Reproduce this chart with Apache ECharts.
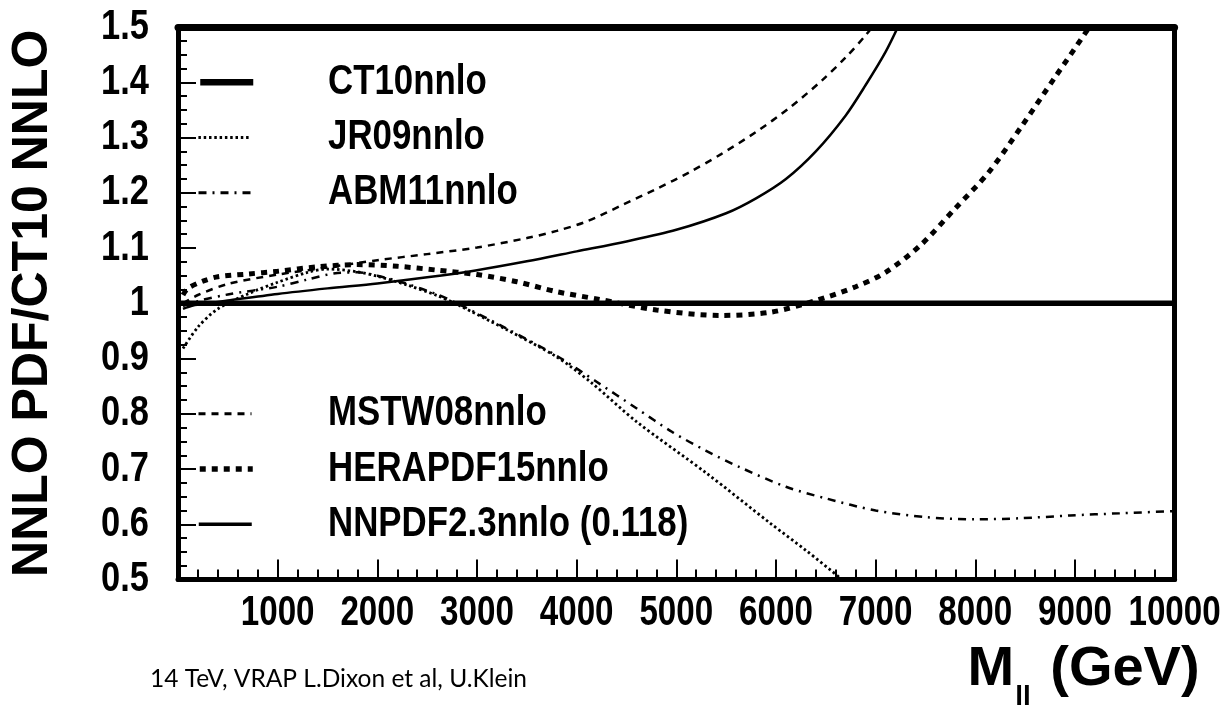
<!DOCTYPE html>
<html>
<head>
<meta charset="utf-8">
<script src="https://cdn.jsdelivr.net/npm/echarts@6/dist/echarts.min.js"></script>
<style>
  html, body { margin: 0; padding: 0; background: #fff; }
  #chart { width: 1231px; height: 714px; }
</style>
</head>
<body>
<div id="chart"></div>
<script>
// Ratio of each NNLO PDF set to CT10 NNLO versus dilepton mass M_ll (GeV)
const xTickValues = [1000, 2000, 3000, 4000, 5000, 6000, 7000, 8000, 9000, 10000];
const yTickValues = [0.5, 0.6, 0.7, 0.8, 0.9, 1.0, 1.1, 1.2, 1.3, 1.4, 1.5];

const upperLegend = ['CT10nnlo', 'JR09nnlo', 'ABM11nnlo'];
const lowerLegend = ['MSTW08nnlo', 'HERAPDF15nnlo', 'NNPDF2.3nnlo (0.118)'];

const ct10 = [[0, 1], [10000, 1]];

const jr09 = [[50, 0.918], [200, 0.957], [400, 0.99], [700, 1.017], [1000, 1.038], [1300, 1.056],
  [1500, 1.062], [1800, 1.057], [2000, 1.049], [2300, 1.033], [2600, 1.014], [2800, 0.998],
  [3300, 0.952], [3800, 0.903], [4150, 0.856], [4600, 0.786], [5300, 0.693], [5950, 0.601],
  [6300, 0.553], [6650, 0.502], [6800, 0.478]];

const abm11 = [[50, 0.995], [200, 1.004], [500, 1.016], [1000, 1.03], [1300, 1.043], [1600, 1.055],
  [1800, 1.056], [2000, 1.05], [2300, 1.035], [2600, 1.016], [2800, 1.0], [3300, 0.954],
  [3800, 0.905], [4200, 0.858], [4600, 0.81], [4960, 0.767], [5300, 0.733], [5630, 0.704],
  [6100, 0.668], [6500, 0.647], [7000, 0.625], [7500, 0.613], [8000, 0.609], [8450, 0.611],
  [8950, 0.616], [9450, 0.62], [10000, 0.624]];

const mstw08 = [[50, 1.0], [200, 1.015], [500, 1.035], [1000, 1.052], [1500, 1.065], [2000, 1.078],
  [2500, 1.089], [3000, 1.101], [3500, 1.118], [3800, 1.131], [4100, 1.148], [4460, 1.178],
  [4800, 1.207], [5130, 1.237], [5450, 1.27], [5800, 1.31], [6130, 1.353], [6460, 1.403],
  [6700, 1.445], [6900, 1.485], [7000, 1.508]];

const herapdf15 = [[50, 1.015], [100, 1.027], [250, 1.04], [400, 1.048], [700, 1.053], [1000, 1.058],
  [1400, 1.066], [1800, 1.07], [2200, 1.067], [2600, 1.06], [3000, 1.052], [3400, 1.039],
  [3800, 1.021], [4200, 1.008], [4800, 0.988], [5450, 0.978], [5950, 0.984], [6400, 1.005],
  [6800, 1.03], [7100, 1.056], [7450, 1.105], [7800, 1.172], [8130, 1.236], [8460, 1.319],
  [8800, 1.409], [9100, 1.488], [9200, 1.515]];

const nnpdf23 = [[50, 0.99], [150, 0.996], [300, 1.0], [500, 1.005], [1000, 1.017], [1500, 1.027],
  [2000, 1.036], [2500, 1.047], [3000, 1.06], [3500, 1.076], [4000, 1.094], [4500, 1.112],
  [5000, 1.133], [5500, 1.163], [5800, 1.19], [6100, 1.225], [6400, 1.275], [6700, 1.34],
  [6900, 1.395], [7100, 1.455], [7250, 1.51]];

const SANS = '"Liberation Sans", Arial, Helvetica, sans-serif';

const chart = echarts.init(document.getElementById('chart'), null, { renderer: 'canvas' });

function curve(name, data, width, dash, z) {
  return {
    name, type: 'line', data, smooth: 0.3,
    symbol: 'none', clip: true, z: z || 2, silent: true,
    itemStyle: { color: '#000' },
    lineStyle: { color: '#000', width, type: dash || 'solid' }
  };
}

const legendLineWidths = {
  'CT10nnlo': 6.5, 'JR09nnlo': 2.8, 'ABM11nnlo': 3,
  'MSTW08nnlo': 3, 'HERAPDF15nnlo': 5.5, 'NNPDF2.3nnlo (0.118)': 3.5
};

// one legend row per set: the sample line only, the name is set as condensed text
function legendRow(name) {
  return {
    orient: 'horizontal', left: 197, top: 0, padding: 0,
    itemWidth: 53, itemHeight: 14, itemGap: 0, selectedMode: false,
    itemStyle: { opacity: 0 },
    textStyle: { fontSize: 10, color: '#000' },
    formatter: () => '',
    data: [{ name, lineStyle: { width: legendLineWidths[name] } }]
  };
}

const legendNames = upperLegend.concat(lowerLegend);

const option = {
  animation: false,
  backgroundColor: '#fff',
  grid: { left: 170.6, top: 27, right: 56.4, bottom: 134.4, containLabel: false },
  xAxis: [{
    type: 'value', min: 0, max: 10000, interval: 1000, position: 'bottom',
    axisLine: { show: true, onZero: false, lineStyle: { color: '#000', width: 5 } },
    axisTick: { show: true, inside: true, length: 20, lineStyle: { color: '#000', width: 2 } },
    minorTick: { show: true, splitNumber: 5, length: 10, lineStyle: { color: '#000', width: 2 } },
    splitLine: { show: false }, minorSplitLine: { show: false },
    axisLabel: { show: false },
    name: '{m|M}{s|ll}{m| (GeV)}', nameLocation: 'end', nameGap: 25,
    nameTextStyle: {
      align: 'right', verticalAlign: 'top', padding: [62, 0, 0, 0],
      rich: {
        m: { fontFamily: SANS, fontWeight: 'bold', fontSize: 56, lineHeight: 60, verticalAlign: 'top', color: '#000' },
        s: { fontFamily: SANS, fontWeight: 'bold', fontSize: 28, lineHeight: 70, verticalAlign: 'bottom', color: '#000', padding: [0, 4, 0, 1] }
      }
    }
  }, {
    type: 'value', min: 0, max: 10000, position: 'top',
    axisLine: { show: true, onZero: false, lineStyle: { color: '#000', width: 7 } },
    axisTick: { show: false }, axisLabel: { show: false }, splitLine: { show: false }
  }],
  yAxis: [{
    type: 'value', min: 0.5, max: 1.5, interval: 0.1, position: 'left',
    axisLine: { show: true, onZero: false, lineStyle: { color: '#000', width: 5 } },
    axisTick: { show: true, inside: true, length: 18, lineStyle: { color: '#000', width: 2 } },
    minorTick: { show: true, splitNumber: 4, length: 9, lineStyle: { color: '#000', width: 2 } },
    splitLine: { show: false }, minorSplitLine: { show: false },
    axisLabel: { show: false },
    name: 'NNLO PDF/CT10 NNLO', nameLocation: 'middle', nameGap: 120, nameRotate: 90,
    nameTextStyle: { fontFamily: SANS, fontWeight: 'bold', fontSize: 50, color: '#000' }
  }, {
    type: 'value', min: 0.5, max: 1.5, position: 'right',
    axisLine: { show: true, onZero: false, lineStyle: { color: '#000', width: 5 } },
    axisTick: { show: false }, axisLabel: { show: false }, splitLine: { show: false }
  }],
  legend: legendNames.map(legendRow),
  series: [
    curve('JR09nnlo', jr09, 2.8, [2.5, 2.8]),
    curve('ABM11nnlo', abm11, 2.5, [8, 6, 2, 6]),
    curve('MSTW08nnlo', mstw08, 2.5, [7, 6]),
    curve('HERAPDF15nnlo', herapdf15, 5, [6, 6]),
    curve('NNPDF2.3nnlo (0.118)', nnpdf23, 2.5, 'solid'),
    curve('CT10nnlo', ct10, 5.5, 'solid', 5)
  ]
};

chart.setOption(option);

// Condensed bold labels placed through the chart's own axis scales
function condensed(text, x, y, align, size, scale) {
  return {
    type: 'text', x, y, scaleX: scale, silent: true, z: 20,
    style: {
      text, x: 0, y: 0, align, verticalAlign: 'middle',
      font: `bold ${size}px ${SANS}`, fill: '#000'
    }
  };
}

const px = v => chart.convertToPixel({ xAxisIndex: 0 }, v);
const py = v => chart.convertToPixel({ yAxisIndex: 0 }, v);
const axisY = py(0.5);
const axisX = px(0);
const rowStep = py(1.3) - py(1.4);

const graphics = [];
xTickValues.forEach(v => {
  graphics.push(condensed(String(v), px(v), axisY + 33.5, 'center', 42, 0.79));
});
yTickValues.forEach(v => {
  const t = v === 1 ? '1' : v.toFixed(1);
  graphics.push(condensed(t, axisX - 29, py(v), 'right', 42, 0.82));
});

// legend rows sit on the 1.4 / 1.3 / 1.2 and 0.8 / 0.7 / 0.6 levels
const rowY = [py(1.4), py(1.4) + rowStep, py(1.4) + 2 * rowStep,
              py(0.8), py(0.8) + rowStep, py(0.8) + 2 * rowStep];
legendNames.forEach((n, i) => graphics.push(condensed(n, 328, rowY[i], 'left', 42, 0.83)));

graphics.push({
  type: 'text', left: 150, top: 667, silent: true,
  style: { text: '14 TeV, VRAP L.Dixon et al, U.Klein', font: '24.5px Lato, "Open Sans", sans-serif', fill: '#000' }
});

chart.setOption({
  legend: rowY.map(y => ({ top: y - 7 })),
  graphic: graphics
});
</script>
</body>
</html>
